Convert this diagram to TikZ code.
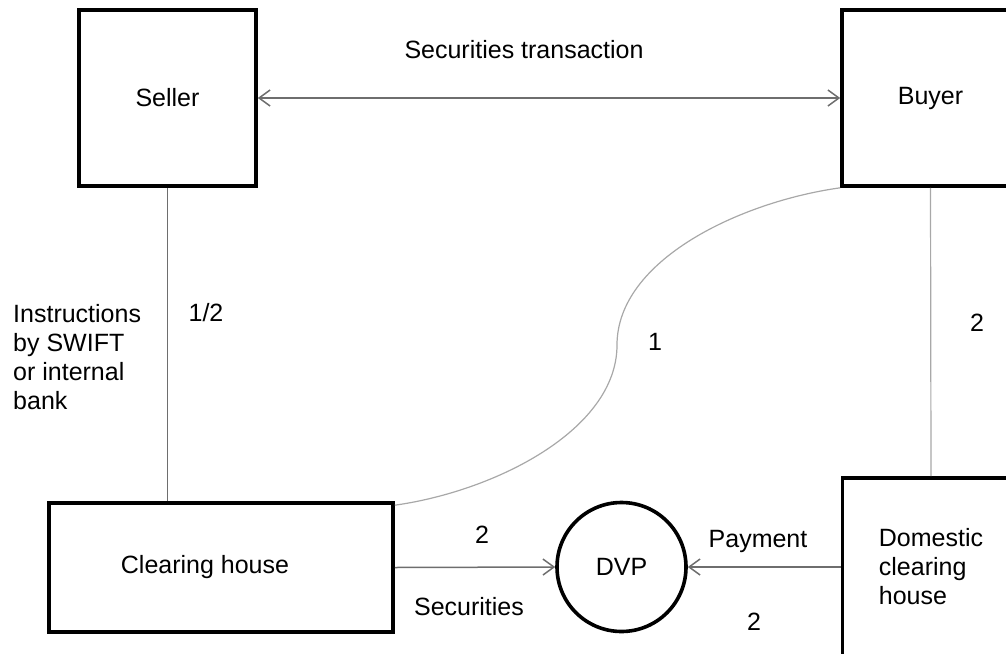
\documentclass[tikz,border=0pt]{standalone}
\usepackage{fontspec}
\setmainfont{Liberation Sans}
\usetikzlibrary{arrows.meta,positioning}
\definecolor{lineGray}{HTML}{6E6E6E}
\definecolor{softGray}{HTML}{A8A8A8}

\begin{document}
\begin{tikzpicture}[x=1pt, y=-1pt,
    box/.style={draw, line width=3.6pt, minimum width=177pt, minimum height=176pt, inner sep=0pt, font=\fontsize{25}{29}\selectfont, align=left},
    lbl/.style={inner sep=0pt, font=\fontsize{25}{29}\selectfont, align=left},
    lnk/.style={draw=lineGray, line width=1.5pt},
    faint/.style={draw=softGray, line width=1.2pt},
    arr/.style={lnk, -{Straight Barb[length=11pt,width=16pt]}},
    arrboth/.style={lnk, {Straight Barb[length=11pt,width=16pt]}-{Straight Barb[length=11pt,width=16pt]}}
  ]
    \useasboundingbox (0,0) rectangle (1006,653);
    % parties
    \node[box] (seller) at (167.5,98) {Seller};
    \node[box] (buyer) at (930.5,98) {Buyer};
    \node[box, minimum width=344pt, minimum height=129pt] (clearing) at (221,567.5) {Clearing house\hspace*{32pt}};
    \node[box, minimum height=178pt] (dom) at (931,567) {Domestic\\clearing\\house};
    \node[box, circle, minimum size=129pt] (dvp) at (621.5,567) {DVP};
    % labels
    \node[lbl] (lbltx) at (524,50) {Securities transaction};
    \node[lbl] (lblhalf) at (206,313) {1/2};
    \node[lbl, anchor=west] (lblinstr) at (13,357) {Instructions\\by SWIFT\\or internal\\bank};
    \node[lbl] (lblone) at (655,342) {1};
    \node[lbl] (lbltwoR) at (977,323) {2};
    \node[lbl] (lbltwoS) at (482,535) {2};
    \node[lbl] (lblsec) at (469,607) {Securities};
    \node[lbl] (lblpay) at (758,541) {Payment};
    \node[lbl] (lbltwoP) at (754,622) {2};
    \coordinate (bend) at (617,345);
    % connectors
    \draw[arrboth] (seller.east) -- (buyer.west);
    \draw[lnk] (seller.south) -- (seller.south |- clearing.north);
    \draw[faint] (buyer.south) -- (dom.north);
    \draw[faint] ([yshift=-4pt]clearing.north east) .. controls +(100,-14) and +(0,85) .. (bend)
                 .. controls +(0,-85) and +(-100,14) .. (buyer.south west);
    \draw[arr] (clearing.east) -- (dvp.west);
    \draw[arr] (dom.west) -- (dvp.east);
  \end{tikzpicture}
\end{document}
